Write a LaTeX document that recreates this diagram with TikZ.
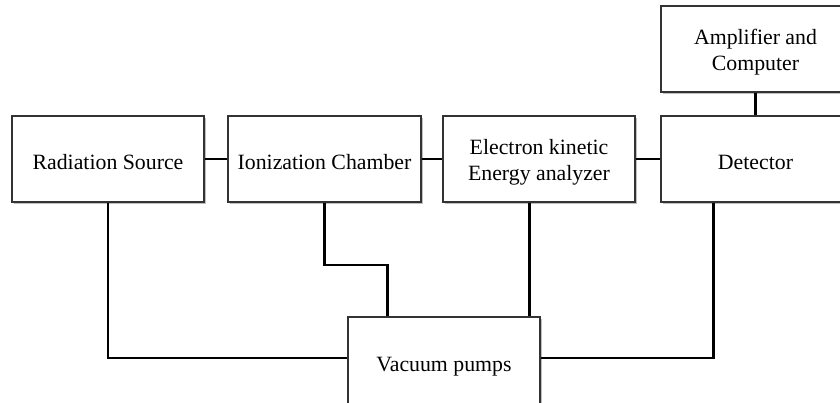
\documentclass[tikz,border=0pt]{standalone}
\usepackage{fontspec}
\setmainfont{Liberation Serif}
\usetikzlibrary{calc,shadows}
\begin{document}
\begin{tikzpicture}[x=0.5pt,y=-0.5pt,
  box/.style={draw=black!80, line width=0.6pt, fill=white, rectangle, inner sep=0pt,
    minimum width=#1*0.5pt, minimum height=43pt,
    drop shadow={shadow xshift=0.8pt, shadow yshift=-0.8pt, opacity=0.25, fill=black}},
  txt/.style={label={[align=center, yshift=-1.6pt, font=\fontsize{10.9}{13.3}\selectfont]center:#1}},
  conn/.style={draw=black, line width=1.15pt}]
\useasboundingbox (0,0) rectangle (840,402);
\clip (0,0) rectangle (840,402);
\node[box=192, txt={Radiation Source}] (rad) at (108,159) {};
\node[box=193, txt={Ionization Chamber}] (ion) at (324.5,159) {};
\node[box=192, txt={Electron kinetic\\Energy analyzer}] (elec) at (539,159) {};
\node[box=189, txt={Detector}] (det) at (755.5,159) {};
\node[box=189, txt={Amplifier and\\Computer}] (amp) at (755.5,49) {};
\node[box=192, minimum height=46pt, txt={Vacuum pumps}] (vac) at (444,363) {};
\coordinate (vl) at (vac.west |- 0,358);
\coordinate (vr) at (vac.east |- 0,358);
\coordinate (ionjog) at (ion.south |- 0,265);
\coordinate (vt1) at ($(vac.north west)+(40,0)$);
\coordinate (vt2) at ($(vac.north west)+(182,0)$);
\coordinate (es) at ($(elec.south west)+(87,0)$);
\coordinate (ds) at ($(det.south west)+(53,0)$);
\draw[conn] (rad.east) -- (ion.west);
\draw[conn] (ion.east) -- (elec.west);
\draw[conn] (elec.east) -- (det.west);
\draw[conn] (amp.south) -- (det.north);
\draw[conn] (rad.south) |- (vl);
\draw[conn] (ion.south) -- (ionjog) -| (vt1);
\draw[conn] (es) -- (vt2);
\draw[conn] (ds) |- (vr);
\end{tikzpicture}
\end{document}
